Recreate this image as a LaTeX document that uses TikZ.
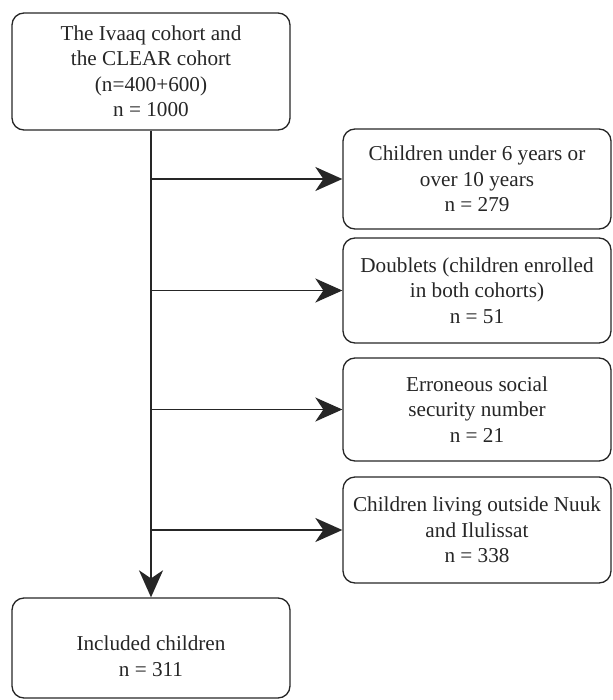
\documentclass[tikz,border=0pt]{standalone}
\usepackage{fontspec}
\setmainfont{Liberation Serif}
\usetikzlibrary{arrows.meta}
\begin{document}
\begin{tikzpicture}[x=1pt,y=-1pt,
  box/.style={draw=black!85, line width=1.3pt, rounded corners=12pt, align=center,
    font=\fontsize{21.2}{25.5}\selectfont, inner sep=2pt, text=black!85},
  lbox/.style={box, minimum width=278pt},
  rbox/.style={box, minimum width=268pt},
  txt/.style={align=center, font=\fontsize{21.2}{25.5}\selectfont, text=black!85, inner sep=0pt},
  flow/.style={line width=1.8pt, draw=black!85, -{Stealth[length=27pt,width=24pt,inset=8pt]}}]
\useasboundingbox (0,0) rectangle (612,700);
\node[lbox, minimum height=117pt] (top) at (151,71.5) {The Ivaaq cohort and\\the CLEAR cohort\\(n=400+600)\\n = 1000};
\node[rbox, minimum height=100pt] (b1) at (477,179) {Children under 6 years or\\over 10 years\\n = 279};
\node[rbox, minimum height=105pt] (b2) at (477,290.5) {Doublets (children enrolled\\in both cohorts)\\n = 51};
\node[rbox, minimum height=103pt] (b3) at (477,409.5) {Erroneous social\\security number\\n = 21};
\node[rbox, minimum height=106pt] (b4) at (477,530) {Children living outside Nuuk\\and Ilulissat\\n = 338};
\node[lbox, minimum height=100pt] (bot) at (151,648) {};
\node[txt] (botlabel) at ([yshift=-8pt]bot.center) {Included children\\n = 311};
\draw[flow] (top.south) -- (bot.north);
\foreach \b in {b1,b2,b3,b4}{
  \draw[flow] (top.south |- \b.west) -- (\b.west);
}
\end{tikzpicture}
\end{document}
